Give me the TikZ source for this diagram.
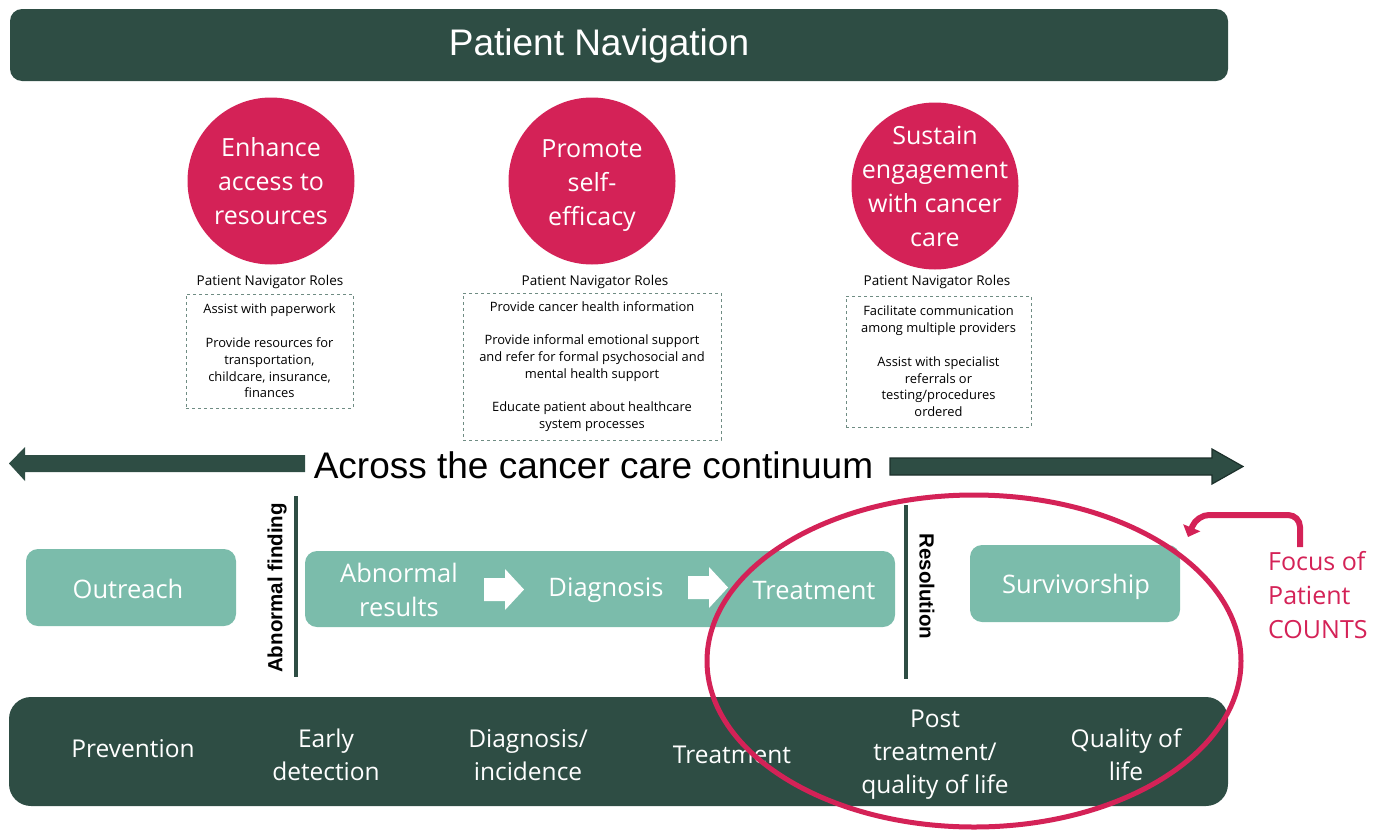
\documentclass[tikz,border=0pt]{standalone}
\usepackage{fontspec}
\setmainfont{Open Sans}
\newfontfamily\arialfont{Liberation Sans}
\usetikzlibrary{arrows.meta}

\definecolor{pine}{HTML}{2E4D44}
\definecolor{pineedge}{HTML}{1C302B}
\definecolor{sage}{HTML}{7BBCAB}
\definecolor{rosered}{HTML}{D42257}
\definecolor{dashgray}{HTML}{6F8C83}

\tikzset{
  banner/.style={fill=pine, text=white, inner sep=0pt},
  goal/.style={circle, fill=rosered, minimum size=167pt, inner sep=0pt},
  goaltext/.style={text=white, align=center, inner sep=0pt, font=\fontsize{25}{34}\selectfont},
  roletitle/.style={font=\fontsize{13.5}{15}\selectfont},
  rolebox/.style={draw=dashgray, dashed, line width=0.9pt, inner sep=0pt, align=center,
    font=\fontsize{12.9}{16.8}\selectfont},
  stagebox/.style={fill=sage, rounded corners=12pt, inner sep=0pt},
  stagetext/.style={text=white, align=center, font=\fontsize{25.5}{34}\selectfont},
  phasetext/.style={text=white, align=center, font=\fontsize{24.5}{33}\selectfont},
  divider/.style={pine, line width=4pt},
  dividerlabel/.style={font=\arialfont\bfseries\fontsize{20.5}{22}\selectfont},
  blockarrow/.style={fill=white},
}

\begin{document}
\begin{tikzpicture}[x=1pt, y=-1pt]
\useasboundingbox (0,0) rectangle (1387,830);

% title banner
\node[banner, rounded corners=12pt, minimum width=1218pt, minimum height=72pt] (head) at (619,45) {};
\node[text=white, font=\arialfont\fontsize{37}{40}\selectfont] (headtext) at (599,46) {Patient Navigation};

% three goals
\node[goal] (g1) at (271,181) {};
\node[goaltext] at (g1) {Enhance\\access to\\resources};
\node[goal] (g2) at (592,181) {};
\node[goaltext] at (592,186) {Promote\\self-\\efficacy};
\node[goal] (g3) at (935,186) {};
\node[goaltext] at (g3) {Sustain\\engagement\\with cancer\\care};

% navigator roles
\node[roletitle] (t1) at (270,282) {Patient Navigator Roles};
\node[roletitle] (t2) at (595,282) {Patient Navigator Roles};
\node[roletitle] (t3) at (937,282) {Patient Navigator Roles};

\node[rolebox, minimum width=167pt, minimum height=114pt] (b1) at (269.5,351)
  {Assist with paperwork\\[16.8pt]Provide resources for\\transportation,\\childcare, insurance,\\finances};
\node[rolebox, minimum width=258pt, minimum height=147pt] (b2) at (592,366.5)
  {Provide cancer health information\\[16.8pt]Provide informal emotional support\\and refer for formal psychosocial and\\mental health support\\[16.8pt]Educate patient about healthcare\\system processes};
\node[rolebox, minimum width=185pt, minimum height=131pt] (b3) at (938.5,361.5)
  {Facilitate communication\\among multiple providers\\[16.8pt]Assist with specialist\\referrals or\\testing/procedures\\ordered};

% continuum arrows
\node[font=\arialfont\fontsize{37}{40}\selectfont] (across) at (593.5,465) {Across the cancer care continuum};
\fill[pine] (305,455) -- (25,455) -- (25,447) -- (9,463.5) -- (25,481) -- (25,472) -- (305,472) -- cycle;
\filldraw[fill=pine, draw=pineedge, line width=1.2pt]
  (890,458) -- (1212,458) -- (1212,449) -- (1243,466.5) -- (1212,484) -- (1212,475) -- (890,475) -- cycle;

% milestone dividers
\coordinate (af1) at (296,496);
\coordinate (af2) at (296,677);
\draw[divider] (af1) -- (af2);
\node[dividerlabel, rotate=90] (aflabel) at (277,588) {Abnormal finding};
\coordinate (rs1) at (906,505);
\coordinate (rs2) at (906,679);
\draw[divider] (rs1) -- (rs2);
\node[dividerlabel, rotate=-90] (rslabel) at (927,586.5) {Resolution};

% care stages
\node[stagebox, minimum width=210pt, minimum height=77pt] (outreach) at (131,587.5) {};
\node[stagetext] at (128,589) {Outreach};
\node[stagebox, minimum width=590pt, minimum height=76pt] (care) at (600,589) {};
\node[stagetext] (abn) at (399,590) {Abnormal\\results};
\node[stagetext] (diag) at (606,590) {Diagnosis};
\node[stagetext] (treat) at (814,591) {Treatment};
\fill[blockarrow] (484,578) -- (505,578) -- (505,569) -- (524,589.5) -- (505,610) -- (505,601) -- (484,601) -- cycle;
\fill[blockarrow] (688,576) -- (709,576) -- (709,567) -- (728,587.5) -- (709,608) -- (709,599) -- (688,599) -- cycle;
\node[stagebox, minimum width=210pt, minimum height=77pt] (surv) at (1075,583.5) {};
\node[stagetext] at (1076,587) {Survivorship};

% continuum phases
\node[banner, rounded corners=22pt, minimum width=1219pt, minimum height=109pt] (phases) at (618.5,751.5) {};
\node[phasetext] at (133,749) {Prevention};
\node[phasetext] at (326,755) {Early\\detection};
\node[phasetext] at (528,755) {Diagnosis/\\incidence};
\node[phasetext] at (732,755) {Treatment};
\node[phasetext] at (935,755) {Post\\treatment/\\quality of life};
\node[phasetext] at (1126,755) {Quality of\\life};

% focus highlight
\draw[rosered, line width=5pt] (974,661) ellipse [x radius=267, y radius=166];
\node[anchor=north west, text=rosered, align=left, inner sep=0pt,
  font=\fontsize{25}{34}\selectfont] (focus) at (1268,551) {Focus of\\Patient\\COUNTS};
\coordinate (hookstart) at (1300,547);
\coordinate (hookend) at (1188,537);
\draw[rosered, line width=6pt, rounded corners=12pt, -{Triangle[width=18pt,length=10pt]}]
  (hookstart) -- (1300,515) -- (1197,515) -- (hookend);
\end{tikzpicture}
\end{document}
